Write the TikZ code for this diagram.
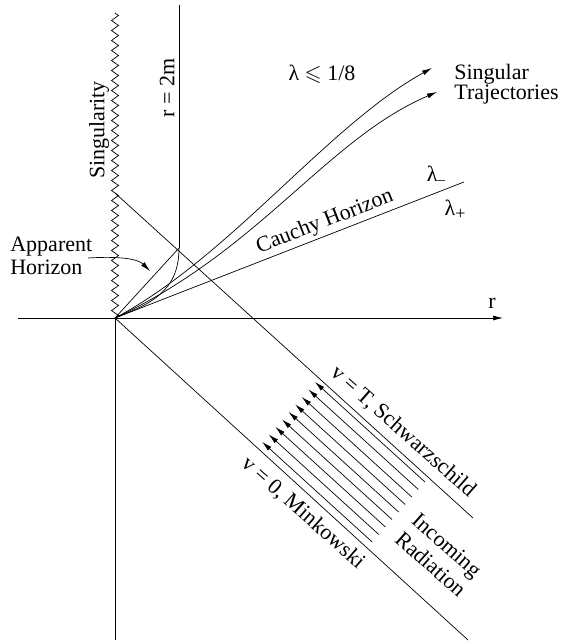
\documentclass[tikz,border=0pt]{standalone}
\usepackage{fontspec}
\setmainfont{Liberation Serif}
\usepackage{amssymb}
\usetikzlibrary{arrows.meta,decorations.pathmorphing}
\begin{document}
\begin{tikzpicture}[x=1pt,y=-1pt,line width=0.7pt,
  lbl/.style={font=\fontsize{22}{21}\selectfont,inner sep=0pt},
  tip/.style={-{Latex[length=10pt,width=5pt]}},
  zz/.style={decorate,decoration={zigzag,segment length=10pt,amplitude=3.5pt}}]
\useasboundingbox (0,0) rectangle (564,644);
% key points
\coordinate (O) at (115,318);
\coordinate (Xl) at (18,318);
\coordinate (Xr) at (503,318);
\coordinate (Yb) at (115,640);
\coordinate (Ztop) at (115,13);
\coordinate (S1) at (115,193);
\coordinate (R2top) at (179,5);
\coordinate (AH) at (179,248);
\coordinate (VT) at (473,518);
\coordinate (V0) at (468,640);
\coordinate (CH) at (464,182);
\coordinate (T1) at (432,68);
\coordinate (T2) at (437,92);
\coordinate (AHa) at (88,258);
\coordinate (AHb) at (150,271);
% axes
\draw[tip] (Xl) -- (Xr);
\draw (O) -- (Yb);
% singularity
\draw[zz] (Ztop) -- (O);
% r = 2m
\draw (R2top) -- (AH);
% null lines
\draw (S1) -- (VT);
\draw (O) -- (V0);
% apparent horizon
\draw (O) -- (AH);
\draw (O) .. controls (150,304) and (179,292) .. (AH);
\draw[tip] (AHa) .. controls (120,256) and (138,259) .. (AHb);
% Cauchy horizon and trajectories
\draw (O) -- (CH);
\draw[tip] (O) .. controls (230,257) and (327,126) .. (T1);
\draw[tip] (O) .. controls (260,250) and (327,139) .. (T2);
% incoming radiation
\foreach \i in {0,...,8}{
  \coordinate (h\i) at ({315-6.6*\i},{382+7.5*\i});
  \coordinate (t\i) at ({425-6.6*\i},{482+7.5*\i});
  \draw[tip] (t\i) -- (h\i);
}
% labels
\node[lbl,rotate=90] (lsing) at (99,130) {Singularity};
\node[lbl,rotate=90] (lr2m) at (167,88) {r = 2m};
\node[lbl] (llam) at (322,74) {λ $\leqslant$ 1/8};
\node[lbl,align=left,anchor=west,font=\fontsize{22}{19}\selectfont] (lst) at (454,84) {Singular\\Trajectories};
\node[lbl] (lminus) at (436,175) {λ\raisebox{-3pt}{\fontsize{15}{15}\selectfont –}};
\node[lbl] (lplus) at (455,210) {λ\raisebox{-4pt}{\fontsize{18}{18}\selectfont +}};
\node[lbl,rotate=21.3] (lch) at (325,222) {Cauchy Horizon};
\node[lbl,align=left,anchor=west,font=\fontsize{22}{23}\selectfont] (lah) at (10,256) {Apparent\\Horizon};
\node[lbl] (lraxis) at (492,303) {r};
\node[lbl,rotate=-41.5] (lvt) at (403,432) {v = T, Schwarzschild};
\node[lbl,rotate=-41.5] (lv0) at (303,513) {v = 0, Minkowski};
\node[lbl,rotate=-41.5,align=left,font=\fontsize{22}{25}\selectfont] (lir) at (439,555) {Incoming\\Radiation};
\end{tikzpicture}
\end{document}
